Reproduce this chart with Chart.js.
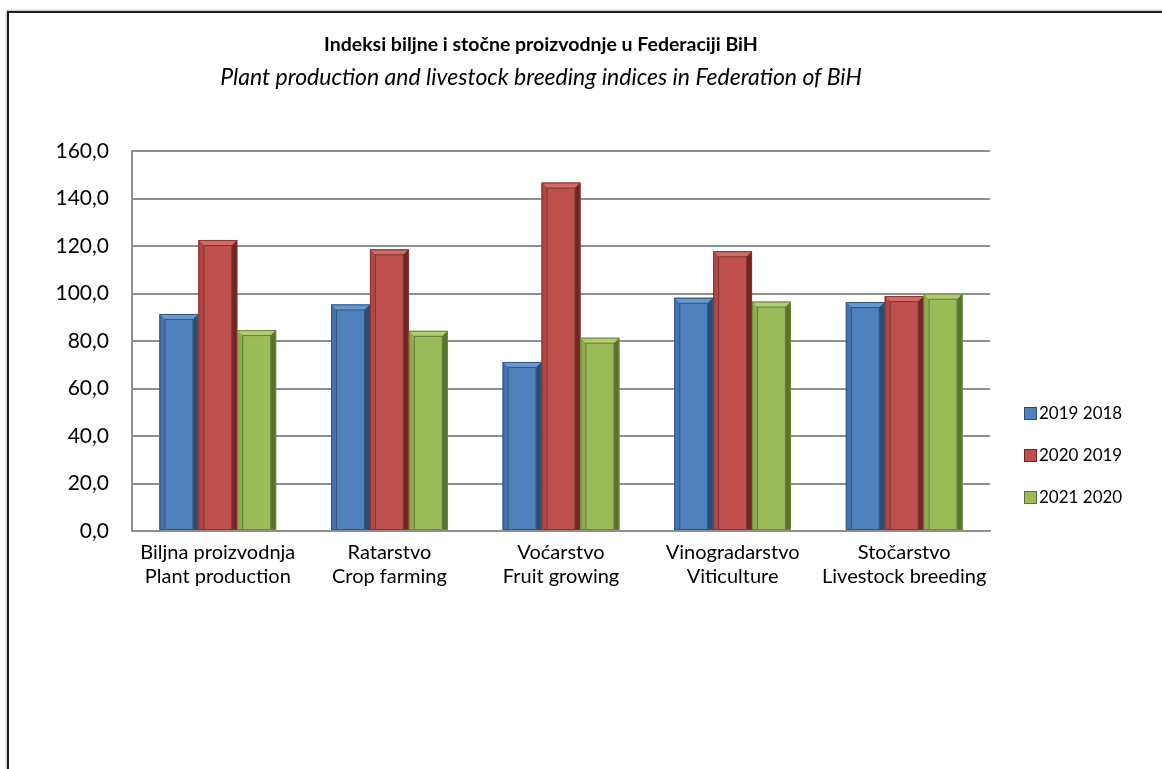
<!DOCTYPE html>
<html><head><meta charset="utf-8">
<script src="https://cdn.jsdelivr.net/npm/chart.js@4.4.0/dist/chart.umd.min.js"></script>
<style>
html,body{margin:0;padding:0;background:#fff;width:1162px;height:769px;overflow:hidden;font-family:Lato,sans-serif;}
#frame{position:absolute;left:7px;top:11px;width:1200px;height:800px;border:2px solid #1e1e1e;box-shadow:-1px -1px 2px rgba(0,0,0,.25);}
#c{position:absolute;left:0;top:0;}
.t1{position:absolute;left:0;width:1082px;text-align:center;top:32px;font-weight:bold;font-size:19.5px;color:#000;}
.t2{position:absolute;left:0;width:1082px;text-align:center;top:62px;font-style:italic;font-size:23px;color:#000;}
.lg{position:absolute;left:1024px;font-size:17px;color:#000;line-height:20px;white-space:nowrap;}
.lg span.box{display:inline-block;width:13px;height:13px;vertical-align:-1px;margin-right:2px;box-sizing:border-box;border:1px solid;}
</style>
</head><body>
<div id="frame"></div>
<canvas id="c" width="1162" height="769"></canvas>
<div class="t1">Indeksi biljne i stočne proizvodnje u Federaciji BiH</div>
<div class="t2">Plant production and livestock breeding indices in Federation of BiH</div>
<div id="legend"></div>
<script>
const categories = [
  ['Biljna proizvodnja', 'Plant production'],
  ['Ratarstvo', 'Crop farming'],
  ['Voćarstvo', 'Fruit growing'],
  ['Vinogradarstvo', 'Viticulture'],
  ['Stočarstvo', 'Livestock breeding']
];
const seriesNames = ['2019 2018', '2020 2019', '2021 2020'];
const values2019_2018 = [91.4, 95.4, 71.2, 98.2, 96.4];
const values2020_2019 = [122.5, 118.6, 146.7, 117.8, 98.9];
const values2021_2020 = [84.6, 84.3, 81.4, 96.6, 99.9];
const yMin = 0, yMax = 160, yStep = 20;

const palettes = [
  {face:'#4F81BD', border:'#2F5685', top:'#6A98D0', left:'#4474AE', right:'#2B4B73'},
  {face:'#C0504D', border:'#8B3230', top:'#D06B68', left:'#B04744', right:'#6E2725'},
  {face:'#9BBB59', border:'#6E8A37', top:'#B0CC74', left:'#8DAC4E', right:'#5A7130'}
];
const seriesValues = [values2019_2018, values2020_2019, values2021_2020];

const bevelPlugin = {
  id: 'bevel',
  afterDatasetsDraw(chart) {
    const ctx = chart.ctx;
    chart.data.datasets.forEach((ds, i) => {
      const meta = chart.getDatasetMeta(i);
      const p = palettes[i];
      meta.data.forEach(bar => {
        const l = bar.x - bar.width / 2, r = bar.x + bar.width / 2;
        const t = bar.y, b = bar.base;
        const bv = 5;
        ctx.save();
        ctx.fillStyle = p.top;
        ctx.beginPath(); ctx.moveTo(l, t); ctx.lineTo(r, t); ctx.lineTo(r - bv, t + bv); ctx.lineTo(l + bv, t + bv); ctx.closePath(); ctx.fill();
        ctx.fillStyle = p.left;
        ctx.beginPath(); ctx.moveTo(l, t); ctx.lineTo(l + bv, t + bv); ctx.lineTo(l + bv, b); ctx.lineTo(l, b); ctx.closePath(); ctx.fill();
        ctx.fillStyle = p.right;
        ctx.beginPath(); ctx.moveTo(r, t); ctx.lineTo(r, b); ctx.lineTo(r - bv, b); ctx.lineTo(r - bv, t + bv); ctx.closePath(); ctx.fill();
        ctx.strokeStyle = 'rgba(0,0,0,0.35)';
        ctx.lineWidth = 1;
        ctx.beginPath(); ctx.moveTo(l + bv + 0.5, b); ctx.lineTo(l + bv + 0.5, t + bv + 0.5); ctx.lineTo(r - bv - 0.5, t + bv + 0.5); ctx.lineTo(r - bv - 0.5, b); ctx.stroke();
        ctx.strokeStyle = p.border;
        ctx.strokeRect(l + 0.5, t + 0.5, r - l - 1, b - t - 1);
        ctx.restore();
      });
    });
  }
};

new Chart(document.getElementById('c'), {
  type: 'bar',
  data: {
    labels: categories,
    datasets: seriesNames.map((n, i) => ({
      label: n,
      data: seriesValues[i],
      backgroundColor: palettes[i].face,
      borderWidth: 0,
      categoryPercentage: 0.68,
      barPercentage: 1.0
    }))
  },
  options: {
    responsive: false,
    animation: false,
    layout: {padding: {left: 0, right: 172, top: 151, bottom: 0}},
    plugins: {legend: {display: false}, title: {display: false}, tooltip: {enabled: false}},
    scales: {
      x: {
        grid: {display: false, drawTicks: false},
        border: {color: '#8f8f8f', width: 2},
        ticks: {font: {family: 'Lato', size: 20, lineHeight: 1.2}, color: '#000', padding: 10, maxRotation: 0, autoSkip: false},
        afterFit(s) { s.height = 238; }
      },
      y: {
        min: yMin, max: yMax,
        grid: {color: '#8f8f8f', lineWidth: 2, drawTicks: false},
        border: {color: '#8f8f8f', width: 2},
        ticks: {stepSize: yStep, font: {family: 'Lato', size: 21}, color: '#000', padding: 23,
          callback: v => v.toFixed(1).replace('.', ',')},
        afterFit(s) { s.width = 132; }
      }
    }
  },
  plugins: [bevelPlugin]
});

const legendTops = [403, 445, 487];
const lg = document.getElementById('legend');
seriesNames.forEach((n, i) => {
  const d = document.createElement('div');
  d.className = 'lg';
  d.style.top = legendTops[i] + 'px';
  const box = document.createElement('span');
  box.className = 'box';
  box.style.background = palettes[i].face;
  box.style.borderColor = palettes[i].right;
  d.appendChild(box);
  d.appendChild(document.createTextNode(n));
  lg.appendChild(d);
});
</script>
</body></html>
